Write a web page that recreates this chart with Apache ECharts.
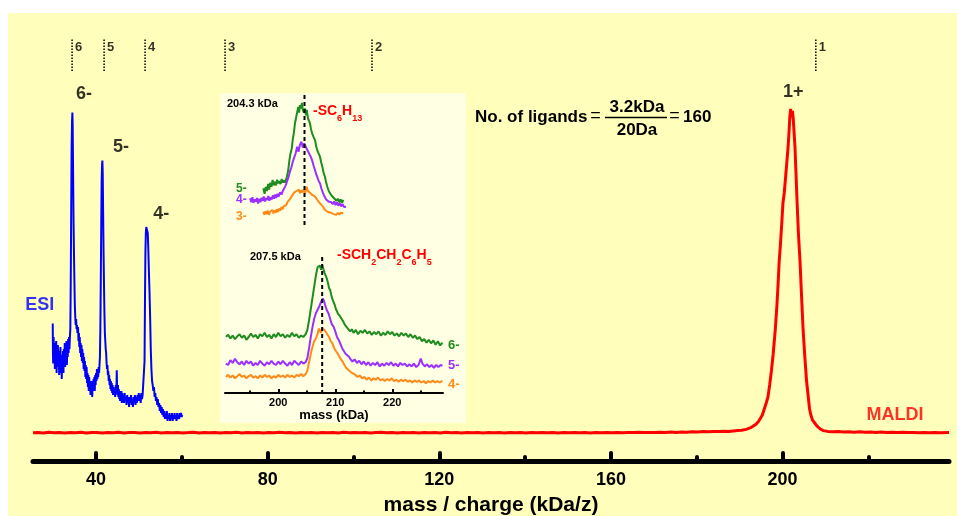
<!DOCTYPE html>
<html><head><meta charset="utf-8">
<style>html,body{margin:0;padding:0;background:#fff}#c{width:957px;height:516px}</style>
<script src="https://cdn.jsdelivr.net/npm/echarts@6/dist/echarts.min.js"></script>
</head><body><div id="c"></div>
<script>
const FONT = '"Liberation Sans", Arial, Helvetica, sans-serif';

// ---- axis ticks ----
const mainMajorTicks = [40, 80, 120, 160, 200];
const mainMinorTicks = [60, 100, 140, 180, 220];
const insetMajorTicks = [200, 210, 220];
const insetMinorTicks = [195, 205, 215, 225];

// ---- charge-state marker positions (kDa/z) ----
const chargeStates = ['6', '5', '4', '3', '2', '1'];
const chargePositions = [34.41, 41.87, 51.42, 70.06, 104.31, 207.76];

// ---- ESI spectrum [kDa/z, intensity] ----
const esiSpectrum = [
[29.9,34.4],[29.95,27],[30.0,24.4],[30.1,31],[30.2,26],[30.3,29.5],[30.4,23],[30.5,28],[30.6,25],[30.7,30],[30.8,22],[30.9,27],[31.0,24],[31.1,29],[31.2,23.5],[31.3,27.5],[31.4,21.5],[31.5,26],[31.6,24],[31.7,28.5],[31.8,22],[31.9,26.5],[32.0,20.5],[32.1,25],[32.2,23],[32.3,27.5],[32.4,22],[32.5,28],[32.6,24],[32.7,29.5],[32.8,23.5],[32.9,27],[33.0,25],[33.1,30],[33.2,24],[33.3,29],[33.4,26],[33.5,30.5],[33.6,27],[33.7,31],[33.8,28],[33.9,31],[34.0,33],
[34.1,45],[34.2,62],[34.3,78],[34.4,85],[34.48,87.1],[34.55,84],[34.65,72],[34.75,60],[34.85,52],[34.95,45],[35.05,39],[35.15,36],[35.25,34],[35.35,35.5],[35.45,33],[35.55,34],[35.65,32],
[35.8,33.5],[35.9,30],[36.0,32],[36.1,28.5],[36.2,31],[36.3,27],[36.4,29.5],[36.5,26],[36.6,29],[36.7,25],[36.8,28],[36.9,24.5],[37.0,27],[37.1,23],[37.2,26],[37.3,22.5],[37.4,25],[37.5,21],[37.6,24],[37.7,20.5],[37.8,23.5],[37.9,19.5],[38.0,22],[38.1,18.5],[38.2,21.5],[38.3,17.5],[38.4,21],[38.5,18],[38.6,20],[38.7,16.5],[38.8,19.5],[38.9,17],[39.0,20],[39.1,16],[39.2,19],[39.3,17.5],[39.4,20.5],[39.5,18],[39.6,21],[39.7,17.5],[39.8,21.5],[39.9,19],[40.0,22],[40.1,20],[40.2,23],[40.3,20.5],[40.4,22],[40.5,21],[40.6,23.5],[40.7,22],[40.8,24],[40.9,26],
[41.0,33],[41.1,45],[41.2,58],[41.3,70],[41.4,74],[41.47,75.1],[41.55,72],[41.65,62],[41.75,52],[41.85,44],[41.95,37],[42.05,32],[42.15,30],[42.25,28],[42.35,27],[42.45,24.5],[42.55,23],[42.65,24],[42.75,21.5],[42.85,22.5],[42.95,20],
[43.05,21.5],[43.15,19],[43.25,20.5],[43.35,18],[43.45,20],[43.55,17.5],[43.65,19.5],[43.75,17],[43.85,19],[43.95,16.5],[44.05,18.5],[44.15,16.5],[44.3,18],[44.45,16],[44.6,19],[44.75,17],[44.82,22.7],[44.9,18],[45.0,16.5],[45.1,19],[45.2,16],[45.3,18],[45.4,15.5],[45.5,17.5],[45.6,15],[45.7,17],[45.8,15.5],[45.9,17.5],[46.0,14.5],[46.1,17],[46.2,15],[46.35,16.5],[46.5,14.5],[46.65,17],[46.8,15],[46.95,16],[47.1,14],[47.25,16.5],[47.4,14.5],[47.55,16],[47.7,13.5],[47.85,16],[48.0,14.5],[48.15,16.5],[48.3,14],[48.45,15.5],[48.6,13.5],[48.75,16],[48.9,14.5],[49.05,16.5],[49.2,14],[49.35,16],[49.5,14.5],[49.65,16.5],[49.8,15],[49.95,17],[50.1,15],[50.25,16.5],[50.4,14.5],[50.55,17],[50.7,15.5],[50.85,16.5],[51.0,16],[51.15,17],
[51.3,25],[51.4,40],[51.5,52],[51.6,57],[51.7,58.5],[51.8,59],[51.9,58],[52.05,57],[52.15,54],[52.25,50],[52.35,46],[52.45,42.5],[52.6,36],[52.75,28],[52.9,23],[53.05,20],[53.2,19],
[53.35,17.5],[53.5,18.5],[53.65,16],[53.8,17],[53.95,15],[54.1,16],[54.25,14],[54.4,15.5],[54.55,13.5],[54.7,14.5],[54.85,12.5],[55.0,14],[55.15,12],[55.3,13.5],[55.45,11.5],[55.6,13],[55.75,11],[55.9,12.5],[56.05,10.5],[56.2,12],[56.35,10.5],[56.5,12.5],[56.65,10],[56.8,11.5],[56.95,10.5],[57.1,12],[57.25,10],[57.4,11.5],[57.55,10.5],[57.7,12],[57.85,10],[58.0,11.5],[58.15,10.5],[58.3,12],[58.45,10.5],[58.6,11.5],[58.75,10],[58.9,12],[59.05,10.5],[59.2,11.5],[59.35,10.5],[59.5,12],[59.65,11],[59.8,12],[59.95,11],[60.1,11.5]
];

// ---- MALDI spectrum [kDa, intensity] ----
const maldiSpectrum = [
[25.3,7.05],[26.5,7.15],[27.7,7.0],[29,7.2],[30.2,7.05],[31.5,7.1],[32.7,7.0],[34,7.15],[35.2,7.05],[36.5,7.2],[37.7,7.0],[39,7.1],[40.2,7.15],[41.5,7.0],[42.7,7.1],[44,7.05],[45.2,7.2],[46.5,7.0],[47.7,7.1],[49,7.15],[50.2,7.0],[51.5,7.1],[52.7,7.05],[54,7.2],[55.2,7.0],[56.5,7.1],[57.7,7.05],[59,7.15],[60.2,7.0],[61.5,7.1],[62.7,7.2],[64,7.0],[65.2,7.1],[66.5,7.05],[67.7,7.15],[69,7.0],[70.2,7.1],[71.5,7.05],[72.7,7.2],[74,7.0],[75.2,7.1],[76.5,7.05],[77.7,7.15],[79,7.0],[80.2,7.1],[81.5,7.05],[82.7,7.2],[84,7.05],[85.2,7.1],[86.5,7.0],[87.7,7.15],[89,7.05],[90.2,7.1],[91.5,7.0],[92.7,7.15],[94,7.05],[95.2,7.1],[96.5,7.0],[97.7,7.2],[99,7.05],[100.2,7.1],[101.5,7.05],[102.7,7.15],[104,7.0],[105.2,7.1],[106.5,7.2],[107.7,7.05],[109,7.1],[110.2,7.0],[111.5,7.15],[112.7,7.05],[114,7.1],[115.2,7.0],[116.5,7.15],[117.7,7.05],[119,7.1],[120.2,7.0],[121.5,7.2],[122.7,7.05],[124,7.1],[125.2,7.0],[126.5,7.15],[127.7,7.05],[129,7.1],[130.2,7.0],[131.5,7.15],[132.7,7.05],[134,7.1],[135.2,7.0],[136.5,7.15],[137.7,7.05],[139,7.1],[140.2,7.0],[141.5,7.15],[142.7,7.05],[144,7.1],[145.2,7.05],[146.5,7.15],[147.7,7.0],[149,7.1],[150.2,7.05],[151.5,7.15],[152.7,7.05],[154,7.1],[155.2,7.0],[156.5,7.15],[157.7,7.05],[159,7.1],[160.2,7.05],[161.5,7.15],[162.7,7.05],[164,7.1],[165.2,7.1],[166.5,7.2],[167.7,7.1],[169,7.15],[170.2,7.1],[171.5,7.2],[172.7,7.15],[174,7.25],[175.2,7.15],[176.5,7.25],[177.7,7.2],[179,7.3],[180.2,7.25],[181.5,7.35],[182.7,7.3],[184,7.4],[185.2,7.35],[186.5,7.45],[187.5,7.4],
[188.5,7.5],[189.5,7.6],[190.5,7.7],[191.5,7.9],[192.3,8.2],[193,8.6],[193.8,9.2],[194.4,9.9],[194.8,10.4],[195.3,11.5],[195.8,13.2],[196.2,14.5],[196.6,16],[197,19],[197.4,22.5],[197.8,26.5],[198.3,32.7],[198.7,39],[199.0,45],[199.2,49.5],[199.5,54],[199.8,59],[200.1,64.5],[200.4,67],[200.8,72],[201.1,76],[201.3,78.5],[201.5,82],[201.7,86],[201.9,88],[202.1,86],[202.3,87.5],[202.5,85.5],[202.7,82],[202.9,78.5],[203.1,73],[203.4,64.5],[203.7,57],[204.1,49.5],[204.4,42],[204.8,32.7],[205.2,26],[205.6,20],[206.0,16],[206.3,13],[206.6,11.5],[207.0,10.2],[207.5,9.5],[208,8.8],[208.8,8.0],[209.5,7.6],
[210.5,7.4],[211.7,7.3],[213,7.35],[214.2,7.25],[215.5,7.3],[216.7,7.2],[218,7.3],[219.2,7.2],[220.5,7.25],[221.7,7.15],[223,7.25],[224.2,7.15],[225.5,7.2],[226.7,7.1],[228,7.2],[229.2,7.1],[230.5,7.15],[231.7,7.05],[233,7.15],[234.2,7.05],[235.5,7.1],[236.7,7.05],[238.8,7.1]
];

// ---- inset, upper panel (-SC6H13), [kDa, intensity] ----
const upper5 = [
[197.37,31.9],[197.6,28],[197.8,33],[198.0,30],[198.2,35],[198.4,31],[198.6,36],[198.8,33],[199.0,37.9],[199.2,34],[199.4,36.5],[199.6,34],[199.8,38],[200.0,35.5],[200.2,37],[200.4,35],[200.6,38.5],[200.8,36],[201.0,37.5],[201.2,36],[201.5,40],[201.75,45],[201.95,52],[202.15,57],[202.35,60],[202.55,67],[202.75,72],[202.93,78.4],[203.1,82],[203.3,86],[203.5,90],[203.65,86],[203.8,91.4],[204.0,89],[204.15,93],[204.3,88],[204.5,86],[204.68,89],[204.85,84],[205.0,87.9],[205.2,82],[205.4,80],[205.56,78.4],[205.75,74],[205.95,71],[206.15,69],[206.44,66.4],[206.65,62],[206.85,59],[207.05,57],[207.32,54.5],[207.55,50],[207.75,47],[207.95,43],[208.19,40.2],[208.4,36],[208.6,33],[208.85,30],[209.07,30.7],[209.3,27],[209.5,26.5],[209.75,25],[209.95,25.9],[210.2,23],[210.45,24.5],[210.7,22],[210.95,24],[211.2,21.5],[211.4,23.6]
];
const upper4 = [
[195.04,24.8],[195.25,22],[195.45,25.5],[195.65,21.5],[195.85,24],[196.05,22.5],[196.25,25],[196.45,21],[196.65,24.5],[196.85,22],[197.05,25],[197.25,23],[197.45,26],[197.65,22.5],[197.85,25],[198.05,23.5],[198.25,26.5],[198.45,23],[198.65,25.5],[198.85,24],[199.05,27],[199.25,24.5],[199.45,27.5],[199.65,25],[199.85,28],[200.05,26],[200.3,29],[200.55,27.5],[200.8,30],[201.05,31],[201.3,34],[201.55,37],[201.8,40],[202.05,44],[202.3,47],[202.55,51],[202.8,54],[203.05,57],[203.3,61.6],[203.55,58],[203.8,63],[204.05,65.2],[204.3,61],[204.55,64],[204.8,62.9],[205.0,60],[205.25,58],[205.5,56.9],[205.75,54],[206.0,51],[206.2,48],[206.44,45],[206.65,42],[206.85,40],[207.1,37],[207.32,35.5],[207.55,32],[207.8,29],[208.0,27],[208.19,25.9],[208.4,24],[208.6,23],[208.8,22.5],[209.07,21.2],[209.3,22],[209.55,20.5],[209.8,22.5],[210.05,20],[210.3,22],[210.55,19.5],[210.8,21.5],[211.05,19],[211.3,20.5],[211.55,18.5],[211.88,18.8]
];
const upper3 = [
[197.37,15.2],[197.55,13],[197.75,15.5],[197.95,13.5],[198.15,16],[198.35,13],[198.55,15],[198.75,14],[198.95,16.5],[199.15,14],[199.35,16],[199.55,14.5],[199.75,17],[199.95,15],[200.15,17.5],[200.35,16],[200.55,18.5],[200.75,17],[200.95,19],[201.18,17.6],[201.4,20],[201.6,22],[201.8,21.5],[202.0,24],[202.2,25],[202.4,26.5],[202.6,27],[202.8,29],[203.0,28.4],[203.2,30],[203.4,29],[203.6,31],[203.8,28.5],[204.0,30.5],[204.2,29],[204.45,31],[204.7,28],[204.98,33.1],[205.2,30],[205.4,31],[205.6,28.5],[205.8,29.5],[206.0,27],[206.2,28],[206.44,26],[206.7,24.5],[206.95,23],[207.32,21.2],[207.55,20],[207.8,19],[208.0,18],[208.19,16.4],[208.45,17],[208.7,15],[208.95,16],[209.2,14.5],[209.45,15.5],[209.7,13.5],[209.95,14.5],[210.2,13],[210.45,14.5],[210.7,13],[210.95,14.5],[211.2,13.5],[211.4,14.1]
];

// ---- inset, lower panel (-SCH2CH2C6H5), [kDa, intensity] ----
const lower6 = [
[190.8,40.2],[191.2,41.5],[191.6,39],[192.0,41],[192.4,38.5],[192.8,40.5],[193.2,42],[193.6,39.5],[194.0,41],[194.4,38],[194.8,40],[195.2,42.5],[195.6,40],[196.0,41.5],[196.4,39],[196.8,42],[197.2,40.5],[197.6,43],[198.0,40],[198.4,41.5],[198.8,39],[199.2,42],[199.6,40],[200.0,43],[200.4,40.5],[200.8,42],[201.2,39.5],[201.6,41.5],[202.0,40],[202.4,43],[202.8,40.5],[203.2,42],[203.6,39.5],[204.0,41],[204.4,40],[204.8,42],[205.1,45],[205.4,52],[205.7,60],[206.0,68],[206.3,76],[206.6,84],[206.9,90],[207.1,89],[207.3,91],[207.5,88],[207.7,91.4],[207.9,90],[208.1,86],[208.3,84],[208.5,82],[208.7,79],[208.9,75],[209.1,73.5],[209.3,70],[209.5,67],[209.7,66],[209.9,63],[210.1,60],[210.3,59],[210.5,56.5],[210.8,55],[211.1,54.5],[211.4,51],[211.7,48.6],[212.0,47],[212.3,46],[212.6,44],[212.9,45.5],[213.2,43],[213.6,45],[214.0,42],[214.4,44.5],[214.8,43],[215.2,45],[215.6,42.5],[216.0,44],[216.4,41.5],[216.8,43.5],[217.2,42],[217.6,44],[218.0,41],[218.4,43],[218.8,41.5],[219.2,44],[219.6,42],[220.0,43.5],[220.4,41],[220.8,42.5],[221.2,40.5],[221.6,43],[222.0,41],[222.4,42.5],[222.8,40],[223.2,42],[223.6,39.5],[224.0,41],[224.4,38.5],[224.8,40],[225.2,37],[225.6,38.5],[226.0,36],[226.4,38],[226.8,35.5],[227.2,37.5],[227.6,34.5],[228.0,37],[228.4,34],[228.8,36]
];
const lower5 = [
[190.8,21],[191.2,20],[191.6,23.5],[192.0,21.5],[192.4,24.5],[192.8,22],[193.2,20.5],[193.6,22.5],[194.0,20],[194.4,23],[194.8,21],[195.2,22.5],[195.6,19.5],[196.0,21.5],[196.4,20],[196.8,23],[197.2,21],[197.6,19.5],[198.0,22],[198.4,20.5],[198.8,23],[199.2,21],[199.6,20],[200.0,22.5],[200.4,20.5],[200.8,23],[201.2,21],[201.6,19.5],[202.0,22],[202.4,20],[202.8,23],[203.2,21.5],[203.6,20],[204.0,22.5],[204.4,21],[204.8,22],[205.1,25],[205.4,32],[205.7,40],[206.0,47],[206.3,53],[206.6,57],[206.9,58],[207.2,62],[207.5,65],[207.8,67.6],[208.0,66],[208.2,63],[208.5,59.3],[208.8,57],[209.1,53],[209.4,49],[209.7,47.4],[210.0,44],[210.3,40],[210.6,37.9],[210.9,35],[211.2,32],[211.5,30.7],[211.8,28],[212.1,27],[212.4,25.9],[212.7,24],[213.0,22.5],[213.4,24],[213.8,21.5],[214.2,23],[214.6,20.5],[215.0,22.5],[215.4,20],[215.8,22],[216.2,19.5],[216.6,21.5],[217.0,20],[217.4,22],[217.8,19],[218.2,21],[218.6,19.5],[219.0,21.5],[219.4,20],[219.8,22],[220.2,19.5],[220.6,21],[221.0,19],[221.4,21.5],[221.8,20],[222.2,21],[222.6,19],[223.0,20.5],[223.4,19],[223.8,21],[224.2,18.5],[224.6,20],[225.0,24.5],[225.3,21],[225.7,19],[226.1,20.5],[226.5,18.5],[226.9,20],[227.3,18],[227.7,20],[228.1,18.5],[228.5,20],[228.8,19.5]
];
const lower4 = [
[190.8,11.5],[191.2,13],[191.6,11],[192.0,12.5],[192.4,10.5],[192.8,12],[193.2,13.5],[193.6,11.5],[194.0,12.5],[194.4,10.5],[194.8,12],[195.2,13],[195.6,11],[196.0,12],[196.4,10.5],[196.8,12.5],[197.2,11],[197.6,13],[198.0,11.5],[198.4,12.5],[198.8,10.5],[199.2,12],[199.6,11],[200.0,13],[200.4,11.5],[200.8,12.5],[201.2,11],[201.6,13],[202.0,11.5],[202.4,12.5],[202.8,11],[203.2,13],[203.6,12],[204.0,13.5],[204.4,12],[204.8,13.5],[205.1,16],[205.4,22],[205.7,28],[206.0,33],[206.3,37],[206.6,39],[206.9,42],[207.1,46],[207.3,47],[207.5,43],[207.7,46.2],[207.9,47.4],[208.1,45],[208.3,44],[208.6,42],[208.9,40],[209.2,37],[209.5,35.5],[209.8,32],[210.1,30],[210.4,28.3],[210.7,26],[211.0,24],[211.3,22.4],[211.6,20],[211.9,18],[212.3,16.4],[212.7,15],[213.1,14],[213.5,13],[213.9,11.5],[214.3,12.5],[214.7,10.5],[215.1,11.5],[215.5,9.5],[215.9,11],[216.3,9],[216.7,10.5],[217.1,9.5],[217.5,11],[217.9,9],[218.3,10],[218.7,8.5],[219.1,10],[219.5,9],[219.9,10.5],[220.3,8.5],[220.7,9.5],[221.1,8],[221.5,9.5],[221.9,8.5],[222.3,9.5],[222.7,8],[223.1,9],[223.5,7.5],[223.9,9],[224.3,8],[224.7,9],[225.1,7.5],[225.5,8.5],[225.9,7],[226.3,8.5],[226.7,7.5],[227.1,9],[227.5,7.5],[227.9,8.5],[228.3,7.5],[228.8,8.6]
];
const upperCenter = 204.6;   // dashed reference line, upper panel
const lowerCenter = 207.7;   // dashed reference line, lower panel

// ---- peak annotations [kDa/z, intensity] ----
const peakLabels = [
  {name: '6-', value: [37.2, 91.75]},
  {name: '5-', value: [45.8, 78.4]},
  {name: '4-', value: [55.2, 61.75]},
  {name: '1+', value: [202.5, 92.3]},
  {name: 'ESI', value: [26.9, 38.9], color: '#0000FF'},
  {name: 'MALDI', value: [226.2, 11.4], color: '#FF0000'}
];

const GREEN = '#1E8C1E', PURPLE = '#9B30FF', ORANGE = '#FF8A1A';

const series = [];
series.push({type:'line', xAxisIndex:0, yAxisIndex:0, data: esiSpectrum, showSymbol:false, silent:true,
  lineStyle:{color:'#0000FF', width:2}, z:3});
series.push({type:'line', xAxisIndex:0, yAxisIndex:0, data: maldiSpectrum, showSymbol:false, silent:true,
  lineStyle:{color:'#FF0000', width:3}, z:3});
chargePositions.forEach(function(p){
  series.push({type:'line', xAxisIndex:0, yAxisIndex:0, data:[[p,97.5],[p,105.5]], showSymbol:false, silent:true,
    lineStyle:{color:'#000', width:1.5, type:[1.5,1.5]}, z:3});
});
series.push({type:'scatter', xAxisIndex:0, yAxisIndex:0, symbolSize:0, silent:true, z:5,
  data: chargePositions.map(function(p,i){ return {name: chargeStates[i], value:[p,103.5]}; }),
  label:{show:true, formatter:'{b}', position:[3,0], align:'left', verticalAlign:'middle',
    fontFamily:FONT, fontWeight:'bold', fontSize:13, color:'#000'}});
series.push({type:'scatter', xAxisIndex:0, yAxisIndex:0, symbolSize:0, silent:true, z:5,
  data: peakLabels.map(function(d){ return {name:d.name, value:d.value, label:{color:d.color || '#000'}}; }),
  label:{show:true, formatter:'{b}', position:[0,0], align:'center', verticalAlign:'middle',
    fontFamily:FONT, fontWeight:'bold', fontSize:18, color:'#000'}});
[[upper5,GREEN],[upper4,PURPLE],[upper3,ORANGE]].forEach(function(s){
  series.push({type:'line', xAxisIndex:2, yAxisIndex:1, data:s[0], showSymbol:false, silent:true,
    lineStyle:{color:s[1], width:2}, z:3});
});
series.push({type:'line', xAxisIndex:2, yAxisIndex:1, data:[[upperCenter,98.6],[upperCenter,3.6]], showSymbol:false, silent:true,
  lineStyle:{color:'#000', width:2, type:[4,3]}, z:4});
[[lower6,GREEN],[lower5,PURPLE],[lower4,ORANGE]].forEach(function(s){
  series.push({type:'line', xAxisIndex:3, yAxisIndex:2, data:s[0], showSymbol:false, silent:true,
    lineStyle:{color:s[1], width:2}, z:3});
});
series.push({type:'line', xAxisIndex:3, yAxisIndex:2, data:[[lowerCenter,97.1],[lowerCenter,0]], showSymbol:false, silent:true,
  lineStyle:{color:'#000', width:2, type:[4,3]}, z:4});

function txt(x, y, text, size, color, align, weight){
  return {type:'text', x:x, y:y, z:20, silent:true,
    style:{text:text, fontFamily:FONT, fontSize:size, fontWeight:weight || 'bold', fill:color,
      align:align || 'left', verticalAlign:'middle'}};
}
function chem(x, y, text){
  return {type:'text', x:x, y:y, z:20, silent:true,
    style:{text:text, align:'left', verticalAlign:'middle',
      rich:{
        m:{fontFamily:FONT, fontSize:14, fontWeight:'bold', fill:'#FF0000', lineHeight:24, verticalAlign:'middle'},
        s:{fontFamily:FONT, fontSize:9, fontWeight:'bold', fill:'#FF0000', lineHeight:10, verticalAlign:'bottom'}
      }}};
}

const chart = echarts.init(document.getElementById('c'), null, {renderer:'canvas'});
chart.setOption({
  animation:false,
  backgroundColor:'#ffffff',
  grid:[
    {left:33, right:8, top:21, height:440, outerBoundsMode:'none'},
    {left:225, width:218, top:93, height:140, outerBoundsMode:'none'},
    {left:225, width:218, top:253, height:140, outerBoundsMode:'none'}
  ],
  xAxis:[
    {type:'value', gridIndex:0, min:25.3, max:238.8, position:'bottom',
      axisLine:{show:true, lineStyle:{color:'#000', width:5, cap:'round'}},
      axisTick:{show:true, inside:true, length:8, customValues:mainMajorTicks, lineStyle:{color:'#000', width:4, cap:'round'}},
      axisLabel:{show:true, customValues:mainMajorTicks, margin:10, fontFamily:FONT, fontSize:18, fontWeight:'bold', color:'#000'},
      splitLine:{show:false},
      name:'mass / charge (kDa/z)', nameLocation:'middle', nameGap:34,
      nameTextStyle:{fontFamily:FONT, fontSize:21, fontWeight:'bold', color:'#000'}},
    {type:'value', gridIndex:0, min:25.3, max:238.8, position:'bottom', offset:0,
      axisLine:{show:false},
      axisTick:{show:true, inside:true, length:4, customValues:mainMinorTicks, lineStyle:{color:'#000', width:4, cap:'round'}},
      axisLabel:{show:false}, splitLine:{show:false}},
    {type:'value', gridIndex:1, min:190.65, max:228.9, show:false},
    {type:'value', gridIndex:2, min:190.65, max:228.9, position:'bottom',
      axisLine:{show:true, lineStyle:{color:'#000', width:2}},
      axisTick:{show:true, inside:true, length:4, customValues:insetMajorTicks, lineStyle:{color:'#000', width:2}},
      axisLabel:{show:true, customValues:insetMajorTicks, margin:4, fontFamily:FONT, fontSize:11, fontWeight:'bold', color:'#000'},
      splitLine:{show:false},
      name:'mass (kDa)', nameLocation:'middle', nameGap:15,
      nameTextStyle:{fontFamily:FONT, fontSize:13, fontWeight:'bold', color:'#000'}},
    {type:'value', gridIndex:2, min:190.65, max:228.9, position:'bottom', offset:0,
      axisLine:{show:false},
      axisTick:{show:true, inside:true, length:2.5, customValues:insetMinorTicks, lineStyle:{color:'#000', width:2}},
      axisLabel:{show:false}, splitLine:{show:false}}
  ],
  yAxis:[
    {type:'value', gridIndex:0, min:0, max:110, show:false},
    {type:'value', gridIndex:1, min:0, max:100, show:false},
    {type:'value', gridIndex:2, min:0, max:100, show:false}
  ],
  series: series,
  graphic:{elements:[
    {type:'rect', z:-10, silent:true, shape:{x:8, y:13, width:949, height:503}, style:{fill:'#FFFFBB'}},
    {type:'rect', z:-9, silent:true, shape:{x:220, y:93, width:246, height:330}, style:{fill:'#FFFFE4'}},
    txt(475, 117, 'No. of ligands', 17, '#000'),
    txt(595.5, 116.5, '=', 18, '#000', 'center', 'normal'),
    txt(637, 107.5, '3.2kDa', 17, '#000', 'center'),
    {type:'line', z:20, silent:true, shape:{x1:605, y1:117.5, x2:667, y2:117.5}, style:{stroke:'#000', lineWidth:1.5}},
    txt(637, 130.5, '20Da', 17, '#000', 'center'),
    txt(674.5, 116.5, '=', 18, '#000', 'center', 'normal'),
    txt(683, 117, '160', 17, '#000'),
    txt(227, 104, '204.3 kDa', 11, '#000'),
    chem(313, 111.5, '{m|-SC}{s|6}{m|H}{s|13}'),
    txt(236, 188.5, '5-', 12, GREEN),
    txt(236, 200, '4-', 12, PURPLE),
    txt(236, 216.5, '3-', 12, ORANGE),
    txt(250, 257, '207.5 kDa', 11, '#000'),
    chem(337, 255.5, '{m|-SCH}{s|2}{m|CH}{s|2}{m|C}{s|6}{m|H}{s|5}'),
    txt(448, 345, '6-', 13, GREEN),
    txt(448, 365.5, '5-', 13, PURPLE),
    txt(448, 384.5, '4-', 13, ORANGE)
  ]}
});
</script>
</body></html>
